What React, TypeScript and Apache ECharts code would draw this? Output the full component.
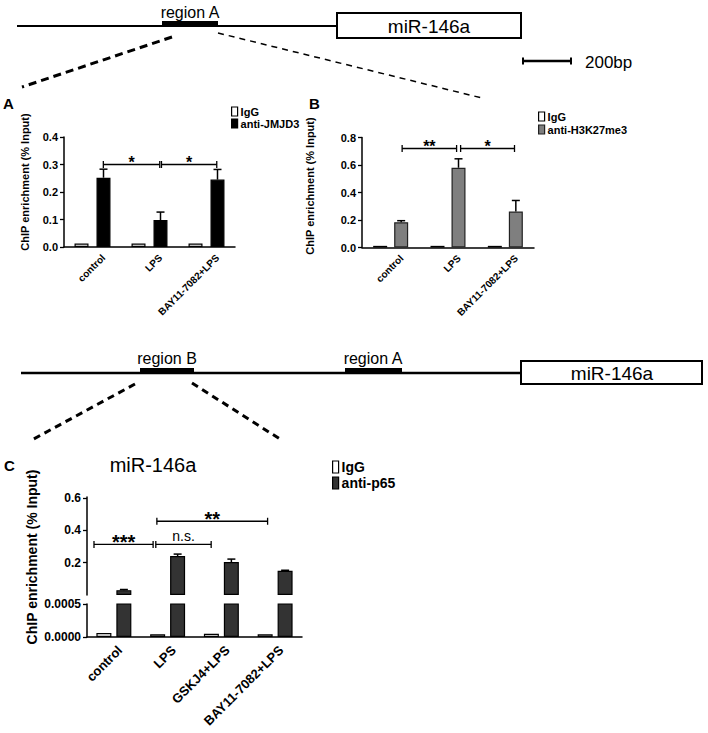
import React, { useEffect, useRef } from "react";
import * as echarts from "echarts";

const FONT = "'Liberation Sans', Arial, Helvetica, sans-serif";

// ---------- data ----------
const catsAB = ["control", "LPS", "BAY11-7082+LPS"];
const catsC = ["control", "LPS", "GSKJ4+LPS", "BAY11-7082+LPS"];

const aIgG = [0.013, 0.013, 0.013];
const aJMJD3 = [0.252, 0.098, 0.245];
const aJMJD3Err = [0.031, 0.029, 0.037];

const bIgG = [0.012, 0.012, 0.012];
const bH3 = [0.184, 0.58, 0.262];
const bH3Err = [0.011, 0.065, 0.08];

const cIgG = [0.00006, 0.00004, 0.00005, 0.00004];
const cP65 = [0.03, 0.241, 0.204, 0.15];
const cP65Err = [0.004, 0.012, 0.018, 0.003];

// significance brackets: [from (category units), to (category units), y value]
const aSigPos = [[0.19, 1.18, 0.3], [1.21, 2.18, 0.3]];
const aSigText = ["*", "*"];
const bSigPos = [[0.2, 1.15, 0.72], [1.22, 2.16, 0.72]];
const bSigText = ["**", "*"];
const cSigPos = [[-0.37, 0.73, 0.313], [0.78, 1.81, 0.313], [0.8, 2.86, 0.456]];
const cSigText = ["***", "n.s.", "**"];

// upper segment of panel C's broken axis
const cUpperStep = 0.2;
const cUpperTicks = [0.2, 0.4, 0.6];
const cUpperTickLabels = ["0.2", "0.4", "0.6"];
const cUpperMax = 0.606;

function errSeries(name: string, xi: number, yi: number, means: number[], errs: number[], offset: number) {
  return {
    type: "custom",
    name: name + "-err",
    xAxisIndex: xi,
    yAxisIndex: yi,
    z: 5,
    silent: true,
    data: means.map((m, i) => [i, m, errs[i]]),
    renderItem: (params: any, api: any) => {
      const i = api.value(0);
      const m = api.value(1);
      const e = api.value(2);
      const p0 = api.coord([i, m]);
      const p1 = api.coord([i, m + e]);
      const cx = p0[0] + offset;
      return {
        type: "group",
        children: [
          { type: "line", shape: { x1: cx, y1: p0[1], x2: cx, y2: p1[1] }, style: { stroke: "#000", lineWidth: 1.5 } },
          { type: "line", shape: { x1: cx - 4, y1: p1[1], x2: cx + 4, y2: p1[1] }, style: { stroke: "#000", lineWidth: 1.5 } },
        ],
      };
    },
  };
}

function sigSeries(xi: number, yi: number, pos: number[][], texts: string[], starSize: number, nsSize: number) {
  return {
    type: "custom",
    xAxisIndex: xi,
    yAxisIndex: yi,
    z: 6,
    silent: true,
    data: pos.map((p) => [0, p[2], p[0], p[1]]),
    renderItem: (params: any, api: any) => {
      const y = api.value(1);
      const from = api.value(2);
      const to = api.value(3);
      const base = api.coord([0, y]);
      const band = api.size([1, 0])[0];
      const x1 = base[0] + from * band;
      const x2 = base[0] + to * band;
      const yy = base[1];
      const label = texts[params.dataIndex];
      const isStar = label.indexOf("*") >= 0;
      const st = { stroke: "#000", lineWidth: 1.3 };
      return {
        type: "group",
        children: [
          { type: "line", shape: { x1, y1: yy, x2, y2: yy }, style: st },
          { type: "line", shape: { x1, y1: yy - 3.5, x2: x1, y2: yy + 3.5 }, style: st },
          { type: "line", shape: { x1: x2, y1: yy - 3.5, x2, y2: yy + 3.5 }, style: st },
          {
            type: "text",
            x: (x1 + x2) / 2,
            y: isStar ? yy - 2 : yy - 8,
            style: {
              text: label,
              fill: "#000",
              fontFamily: FONT,
              fontSize: isStar ? starSize : nsSize,
              fontWeight: isStar ? "bold" : "normal",
              align: "center",
              verticalAlign: "middle",
              textAlign: "center",
              textVerticalAlign: "middle",
            },
          },
        ],
      };
    },
  };
}

// rotated category labels drawn at each category position
function labelSeries(xi: number, yi: number, cats: string[], fontSize: number, dx: number, dy: number) {
  return {
    type: "custom",
    xAxisIndex: xi,
    yAxisIndex: yi,
    z: 6,
    silent: true,
    data: cats.map((c, i) => [i, 0]),
    renderItem: (params: any, api: any) => {
      const p = api.coord([api.value(0), 0]);
      return {
        type: "text",
        x: p[0] + dx,
        y: p[1] + dy,
        rotation: Math.PI / 4,
        style: {
          text: cats[params.dataIndex],
          fill: "#000",
          fontFamily: FONT,
          fontSize,
          fontWeight: "bold",
          align: "right",
          verticalAlign: "middle",
          textAlign: "right",
          textVerticalAlign: "middle",
        },
      };
    },
  };
}

// value-axis tick labels placed at given values, left of the axis line
function yTickLabelSeries(xi: number, yi: number, values: number[], labels: string[], fontSize: number, margin: number) {
  return {
    type: "custom",
    xAxisIndex: xi,
    yAxisIndex: yi,
    z: 20,
    zlevel: 1,
    silent: true,
    data: values.map((v, i) => [i, v]),
    renderItem: (params: any, api: any) => {
      const p = api.coord([0, api.value(1)]);
      const band = api.size([1, 0])[0];
      return {
        type: "text",
        x: p[0] - band / 2 - margin,
        y: p[1],
        style: {
          text: labels[params.dataIndex],
          fill: "#000",
          fontFamily: FONT,
          fontSize,
          fontWeight: "bold",
          align: "right",
          verticalAlign: "middle",
          textAlign: "right",
          textVerticalAlign: "middle",
        },
      };
    },
  };
}

const axisLineStyle = { lineStyle: { color: "#000", width: 1.5 } };
const tickStyle = { length: 4, lineStyle: { color: "#000", width: 1.3 } };

function xCat(gridIndex: number, data: string[], show = true) {
  return {
    gridIndex,
    type: "category",
    data,
    show,
    axisLine: axisLineStyle,
    axisTick: { ...tickStyle, alignWithLabel: true },
    axisLabel: { show: false },
  };
}

function yVal(gridIndex: number, min: number, max: number, interval: number, digits: number, fontSize: number, extra: any = {}) {
  return {
    gridIndex,
    type: "value",
    min,
    max,
    interval,
    splitLine: { show: false },
    axisLine: { show: true, ...axisLineStyle },
    axisTick: { show: true, ...tickStyle, ...(extra.tick || {}) },
    axisLabel: {
      show: extra.showLabels !== false,
      formatter: (v: number) => v.toFixed(digits),
      showMaxLabel: true,
      showMinLabel: true,
      hideOverlap: false,
      fontSize,
      fontWeight: "bold",
      color: "#000",
      fontFamily: FONT,
      margin: 6,
    },
  };
}

const igStyle = { color: "#fff", borderColor: "#000", borderWidth: 1.2 };

export default function App() {
  const ref = useRef<HTMLDivElement>(null);
  useEffect(() => {
    if (!ref.current) return;
    const chart = echarts.init(ref.current, null, { renderer: "svg" });
    const txt = (text: string, x: number, y: number, size: number, extra: any = {}) => ({
      type: "text",
      x,
      y,
      ...(extra.el || {}),
      style: {
        text,
        fill: "#000",
        fontFamily: FONT,
        fontSize: size,
        fontWeight: extra.weight || "normal",
        textAlign: extra.align || "center",
        textVerticalAlign: "middle",
        align: extra.align || "center",
        verticalAlign: "middle",
      },
    });
    const ln = (x1: number, y1: number, x2: number, y2: number, w: number, dash?: number[]) => ({
      type: "line",
      shape: { x1, y1, x2, y2 },
      style: { stroke: "#000", lineWidth: w, lineDash: dash || null },
    });
    const rectFill = (x: number, y: number, w: number, h: number) => ({
      type: "rect",
      shape: { x, y, width: w, height: h },
      style: { fill: "#000" },
    });
    const rectBox = (x: number, y: number, w: number, h: number) => ({
      type: "rect",
      shape: { x, y, width: w, height: h },
      style: { fill: "#fff", stroke: "#000", lineWidth: 2 },
    });

    const option: any = {
      animation: false,
      backgroundColor: "#fff",
      textStyle: { fontFamily: FONT },
      grid: [
        { left: 64, top: 137, width: 171, height: 110 },
        { left: 362, top: 137.5, width: 172, height: 110 },
        { left: 87, top: 497, width: 215, height: 98 },
        { left: 87, top: 604, width: 215, height: 33 },
      ],
      xAxis: [
        xCat(0, catsAB),
        xCat(1, catsAB),
        xCat(2, catsC, false),
        xCat(3, catsC),
      ],
      yAxis: [
        yVal(0, 0, 0.4, 0.1, 1, 11),
        yVal(1, 0, 0.8, 0.2, 1, 11),
        yVal(2, 0, cUpperMax, cUpperStep, 1, 12, { showLabels: false, tick: { customValues: cUpperTicks } }),
        yVal(3, 0, 0.0005, 0.0005, 4, 12),
      ],
      legend: [
        {
          data: [
            { name: "IgG", itemStyle: igStyle },
            { name: "anti-JMJD3", itemStyle: { color: "#000", borderColor: "#000", borderWidth: 1.2 } },
          ],
          left: 231, top: 106, orient: "vertical", icon: "rect", itemWidth: 6, itemHeight: 9, itemGap: 1,
          padding: 0, selectedMode: false,
          textStyle: { fontSize: 11, fontWeight: "bold", color: "#000", fontFamily: FONT, padding: [0, 0, 0, -2] },
        },
        {
          data: [
            { name: "IgG", itemStyle: igStyle },
            { name: "anti-H3K27me3", itemStyle: { color: "#7f7f7f", borderColor: "#222", borderWidth: 1.2 } },
          ],
          left: 538, top: 111, orient: "vertical", icon: "rect", itemWidth: 6, itemHeight: 9, itemGap: 2,
          padding: 0, selectedMode: false,
          textStyle: { fontSize: 11, fontWeight: "bold", color: "#000", fontFamily: FONT, padding: [0, 0, 0, -2] },
        },
        {
          data: [
            { name: "IgG", itemStyle: igStyle },
            { name: "anti-p65", itemStyle: { color: "#333", borderColor: "#000", borderWidth: 1.2 } },
          ],
          left: 332, top: 460, orient: "vertical", icon: "rect", itemWidth: 6, itemHeight: 12, itemGap: 2,
          padding: 0, selectedMode: false,
          textStyle: { fontSize: 14, fontWeight: "bold", color: "#000", fontFamily: FONT, padding: [0, 0, 0, -2] },
        },
      ],
      series: [
        // Panel A
        { type: "bar", name: "IgG", xAxisIndex: 0, yAxisIndex: 0, data: aIgG, barWidth: 14, barGap: "57%", itemStyle: igStyle },
        { type: "bar", name: "anti-JMJD3", xAxisIndex: 0, yAxisIndex: 0, data: aJMJD3, barWidth: 14, barGap: "57%", itemStyle: { color: "#000", borderColor: "#000", borderWidth: 1.2 } },
        errSeries("anti-JMJD3", 0, 0, aJMJD3, aJMJD3Err, 11),
        sigSeries(0, 0, aSigPos, aSigText, 16, 12),
        labelSeries(0, 0, catsAB, 10, 11, 9),
        // Panel B
        { type: "bar", name: "IgG", xAxisIndex: 1, yAxisIndex: 1, data: bIgG, barWidth: 14, barGap: "50%", itemStyle: igStyle },
        { type: "bar", name: "anti-H3K27me3", xAxisIndex: 1, yAxisIndex: 1, data: bH3, barWidth: 14, barGap: "50%", itemStyle: { color: "#7f7f7f", borderColor: "#222", borderWidth: 1.2 } },
        errSeries("anti-H3K27me3", 1, 1, bH3, bH3Err, 10.5),
        sigSeries(1, 1, bSigPos, bSigText, 16, 12),
        labelSeries(1, 1, catsAB, 10, 11, 9),
        // Panel C upper
        { type: "bar", name: "IgG", xAxisIndex: 2, yAxisIndex: 2, data: cIgG.map(() => "-"), barWidth: 15, barGap: "33%", itemStyle: igStyle },
        { type: "bar", name: "anti-p65", xAxisIndex: 2, yAxisIndex: 2, data: cP65, barWidth: 15, barGap: "33%", itemStyle: { color: "#333", borderColor: "#000", borderWidth: 1.2 } },
        errSeries("anti-p65", 2, 2, cP65, cP65Err, 10),
        sigSeries(2, 2, cSigPos, cSigText, 20, 14),
        yTickLabelSeries(2, 2, cUpperTicks, cUpperTickLabels, 12, 6),
        // Panel C lower
        { type: "bar", name: "IgG", xAxisIndex: 3, yAxisIndex: 3, data: cIgG, barWidth: 15, barGap: "33%", itemStyle: igStyle },
        { type: "bar", name: "anti-p65", xAxisIndex: 3, yAxisIndex: 3, data: cP65, barWidth: 15, barGap: "33%", clip: true, itemStyle: { color: "#333", borderColor: "#000", borderWidth: 1.2 } },
        labelSeries(3, 3, catsC, 13, 6, 11),
      ],
      graphic: [
        // top gene diagram
        ln(17, 26, 337, 26, 2),
        rectFill(162, 21, 56, 6),
        txt("region A", 190, 12, 16),
        rectBox(337, 13, 184, 25),
        txt("miR-146a", 429, 26, 19),
        ln(522, 61, 572, 61, 2.5),
        ln(523, 57.5, 523, 64.5, 2),
        ln(571, 57.5, 571, 64.5, 2),
        txt("200bp", 585, 62, 17, { align: "left" }),
        ln(172, 37, 22, 87, 3, [8, 5]),
        ln(218, 33, 482, 98, 1.5, [6, 5]),
        // panel letters
        txt("A", 3, 103, 15, { align: "left", weight: "bold" }),
        txt("B", 309, 103, 15, { align: "left", weight: "bold" }),
        txt("C", 4, 465, 15, { align: "left", weight: "bold" }),
        // y-axis titles
        txt("ChIP enrichment (% Input)", 25, 182, 11, { weight: "bold", el: { rotation: Math.PI / 2 } }),
        txt("ChIP enrichment (% Input)", 310, 186, 11, { weight: "bold", el: { rotation: Math.PI / 2 } }),
        txt("ChIP enrichment (% Input)", 32, 557, 14, { weight: "bold", el: { rotation: Math.PI / 2 } }),
        // middle gene diagram
        ln(21, 373, 521, 373, 2.5),
        rectFill(140, 368, 54, 6),
        txt("region B", 167, 358, 16),
        rectFill(345, 368, 57, 6),
        txt("region A", 373, 358, 16),
        rectBox(521, 361, 181, 23),
        txt("miR-146a", 612, 373, 19),
        ln(135, 384, 30, 441, 3, [7, 5]),
        ln(192, 383, 283, 441, 3, [7, 5]),
        // panel C title
        txt("miR-146a", 153, 465, 20),
      ],
    };
    chart.setOption(option);
    return () => chart.dispose();
  }, []);
  return (
    <div
      ref={ref}
      style={{ position: "absolute", left: 0, top: 0, width: 708, height: 733, background: "#fff" }}
    />
  );
}
